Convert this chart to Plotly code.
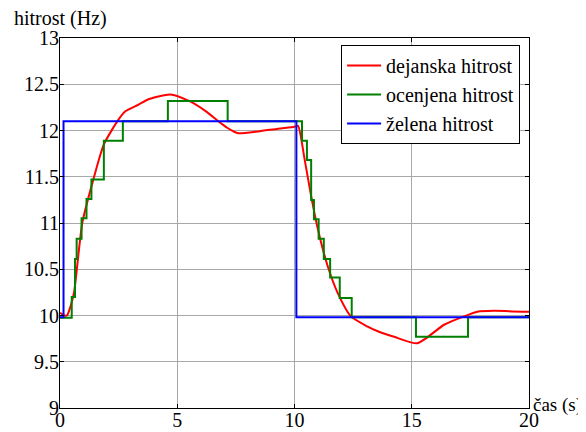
import plotly.graph_objects as go

# dejanska hitrost (actual speed)
t_red = [0, 0.2, 0.3, 0.45, 0.6, 0.95, 1.4, 1.87, 2.5, 2.8, 3.35, 3.8, 4.7, 5.5, 6.21, 6.75, 7.13, 7.4, 7.6, 8.45,
         9.3, 10.0, 10.15, 10.43, 10.71, 11.0, 11.42, 11.85, 12.41, 13.12, 13.55, 14.25, 15.24, 16.38, 17.23,
         17.8, 18.5, 20]
v_red = [10.03, 10.0, 10.0, 10.1, 10.25, 11.0, 11.45, 11.85, 12.12, 12.21, 12.28, 12.34, 12.39, 12.32, 12.21,
         12.1, 12.03, 11.99, 11.97, 11.99, 12.02, 12.04, 12.05, 11.69, 11.29, 10.93, 10.53, 10.24, 9.99, 9.88,
         9.83, 9.77, 9.70, 9.90, 9.99, 10.04, 10.05, 10.04]

# ocenjena hitrost (estimated speed), step-wise
t_green = [0, 0.5, 0.64, 0.71, 0.92, 1.13, 1.34, 1.87, 2.68, 4.6, 7.15, 10.32, 10.53, 10.71, 10.83, 11.03,
           11.25, 11.52, 11.93, 12.44, 15.18, 17.4, 20]
v_green = [9.975, 10.2, 10.61, 10.83, 11.05, 11.26, 11.47, 11.89, 12.1, 12.32, 12.1, 11.89, 11.68, 11.25,
           11.04, 10.83, 10.61, 10.41, 10.19, 9.98, 9.77, 9.98, 9.98]

# želena hitrost (reference speed)
t_blue = [0, 0.15, 10.08, 20]
v_blue = [9.98, 12.1, 9.98, 9.98]

x_ticks = [0, 5, 10, 15, 20]
y_ticks = [9, 9.5, 10, 10.5, 11, 11.5, 12, 12.5, 13]

FONT = "'Liberation Serif', 'Times New Roman', Times, serif"
FS = 20

fig = go.Figure()
fig.add_trace(go.Scatter(x=t_red, y=v_red, mode="lines", name="dejanska hitrost",
                         line=dict(color="#ff0000", width=2, shape="spline", smoothing=0.6)))
fig.add_trace(go.Scatter(x=t_green, y=v_green, mode="lines", name="ocenjena hitrost",
                         line=dict(color="#008000", width=2, shape="hv")))
fig.add_trace(go.Scatter(x=t_blue, y=v_blue, mode="lines", name="želena hitrost",
                         line=dict(color="#0000ff", width=2, shape="hv")))

axis_common = dict(showline=True, linecolor="black", linewidth=1, mirror="ticks", ticks="inside",
                   ticklen=4, tickcolor="black", showgrid=True, gridcolor="#a8a8a8", gridwidth=1,
                   zeroline=False, automargin=False,
                   tickfont=dict(family=FONT, size=FS, color="black"))

fig.update_xaxes(range=[0, 20], tickvals=x_ticks, ticktext=[str(v) for v in x_ticks],
                 ticklabelstandoff=-6, **axis_common)
fig.update_yaxes(range=[9, 13], tickvals=y_ticks, ticktext=[f"{v:g}" for v in y_ticks],
                 ticklabelstandoff=-4, **axis_common)

fig.add_annotation(text="čas (s)", xref="paper", yref="paper", x=1.0, y=0.0, xanchor="left",
                   yanchor="middle", xshift=2, yshift=3, showarrow=False,
                   font=dict(family=FONT, size=19, color="black"))
fig.add_annotation(text="hitrost (Hz)", xref="paper", yref="paper", x=0, y=1.0, xanchor="left",
                   yanchor="middle", xshift=-48, yshift=20, showarrow=False,
                   font=dict(family=FONT, size=FS, color="black"))

# the page body adds an 8px offset; compensate so the plot area lands at 60..529 x 38..408
fig.update_layout(
    width=578, height=424,
    margin=dict(l=52, r=57, t=30, b=24),
    paper_bgcolor="white", plot_bgcolor="white",
    font=dict(family=FONT, size=FS, color="black"),
    legend=dict(x=0.981, y=0.981, xanchor="right", yanchor="top", bgcolor="white",
                bordercolor="black", borderwidth=1, font=dict(family=FONT, size=FS),
                tracegroupgap=0, itemwidth=34),
    showlegend=True,
)

fig.write_html("out.html")
